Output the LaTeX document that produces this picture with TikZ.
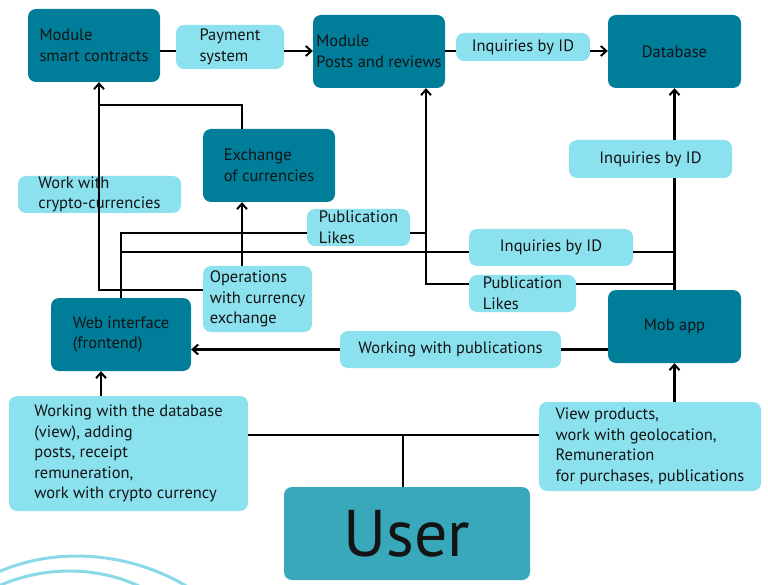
\documentclass[tikz,border=0pt]{standalone}
\usepackage{fontspec}
\setmainfont{PT Sans}
\usetikzlibrary{arrows.meta}
\definecolor{darkbox}{HTML}{007D99}
\definecolor{lightbox}{HTML}{8BE1EE}
\definecolor{userbox}{HTML}{38A8BA}
\definecolor{arcc}{HTML}{8AD8E8}
\begin{document}
\begin{tikzpicture}[x=1pt,y=-1pt,
  base/.style={rounded corners=8pt,align=left,inner sep=0pt,font=\fontsize{16.5}{20.5}\selectfont,text=black!92},
  dark/.style={base,fill=darkbox},
  light/.style={base,fill=lightbox},
  conn/.style={line width=2.3pt,black},
  arr/.style={conn,-{Straight Barb[length=5.5pt,width=10pt,line width=2pt]}}]
\useasboundingbox (0,0) rectangle (768,585);
\begin{scope}
\clip (0,0) rectangle (768,585);
\draw[arcc,line width=3pt] (-10,576) .. controls (55,543) and (140,552) .. (200,595);
\draw[arcc,line width=3pt] (-10,590) .. controls (45,562) and (110,566) .. (155,595);
\end{scope}
% nodes
\node[dark,minimum width=132,minimum height=73] (sc) at (94,45.5) {Module\\smart contracts};
\node[light,minimum width=108,minimum height=44] (pay) at (230,47) {Payment\\system};
\node[dark,minimum width=132,minimum height=73] (posts) at (379,51.5) {Module\\Posts and reviews};
\node[light,minimum width=134,minimum height=28] (inqT) at (523,47) {Inquiries by ID};
\node[dark,minimum width=133,minimum height=73] (db) at (674.5,51.5) {Database};
\node[dark,minimum width=132,minimum height=73] (exch) at (269,165.5) {Exchange\\of currencies};
\node[light,minimum width=163,minimum height=37] (crypto) at (99.5,194.5) {Work with\\crypto-currencies};
\node[light,minimum width=163,minimum height=38] (inqR) at (650.5,159) {Inquiries by ID};
\node[light,minimum width=103,minimum height=37] (pub1) at (358.5,227.5) {Publication\\Likes};
\node[light,minimum width=164,minimum height=37] (inqM) at (551,247.5) {Inquiries by ID};
\node[light,minimum width=109,minimum height=66] (ops) at (257.5,299) {Operations\\with currency\\exchange};
\node[light,minimum width=107,minimum height=37] (pub2) at (522.5,293.5) {Publication\\Likes};
\node[dark,minimum width=140,minimum height=73] (web) at (121,334.5) {Web interface\\(frontend)};
\node[dark,minimum width=133,minimum height=73] (mob) at (674.5,326.5) {Mob app};
\node[light,minimum width=221,minimum height=37] (wpub) at (450.5,349.5) {Working with publications};
\node[light,minimum width=239,minimum height=115] (wdb) at (128.5,453.5) {Working with the database\\(view), adding\\posts, receipt\\remuneration,\\work with crypto currency};
\node[light,minimum width=222,minimum height=89] (view) at (650,446.5) {View products,\\work with geolocation,\\Remuneration\\for purchases, publications};
\node[base,fill=userbox,minimum width=246,minimum height=93,font=\fontsize{66}{66}\selectfont] (user) at (407,533.5) {User};
% helper coordinates
\coordinate (j1) at (99,290);
\coordinate (k1) at (242,105);
\coordinate (w1) at (121,233);
\coordinate (w2) at (121,252);
\coordinate (p1) at (426,233);
\coordinate (p2) at (426,284);
\coordinate (a1) at (101,396);
\coordinate (u1) at (403,435);
\coordinate (t1) at (0,51);
% top row
\draw[conn] (sc.east |- t1) -- (pay.west |- t1);
\draw[arr] (pay.east |- t1) -- (posts.west |- t1);
\draw[conn] (posts.east |- t1) -- (inqT.west |- t1);
\draw[arr] (inqT.east |- t1) -- (db.west |- t1);
% smart contracts feed
\draw[arr] (ops.west |- j1) -- (j1) -- (j1 |- sc.south);
\draw[conn] (k1 |- exch.north) -- (k1) -- (j1 |- k1);
\draw[arr] (k1 |- ops.north) -- (k1 |- exch.south);
% web interface branches
\draw[conn] (web.north) -- (w1) -- (pub1.west |- w1);
\draw[conn] (w2) -- (inqM.west |- w2);
\draw[conn] (inqM.east |- w2) -- (mob.north |- w2);
\draw[conn] (pub1.east |- p1) -- (p1);
\draw[arr] (pub2.west |- p2) -- (p2) -- (p2 |- posts.south);
\draw[conn] (pub2.east |- p2) -- (mob.north |- p2);
% mob app to database
\draw[conn] (mob.north) -- (mob.north |- inqR.south);
\draw[arr] (mob.north |- inqR.north) -- (db.south);
% publications to web
\draw[conn] (mob.west |- wpub.east) -- (wpub.east);
\draw[arr] (wpub.west) -- (web.east |- wpub.west);
% bottom
\draw[arr] (a1) -- (a1 |- web.south);
\draw[arr] (view.north -| mob.south) -- (mob.south);
\draw[conn] (wdb.east |- u1) -- (view.west |- u1);
\draw[conn] (u1) -- (u1 |- user.north);
\end{tikzpicture}
\end{document}
